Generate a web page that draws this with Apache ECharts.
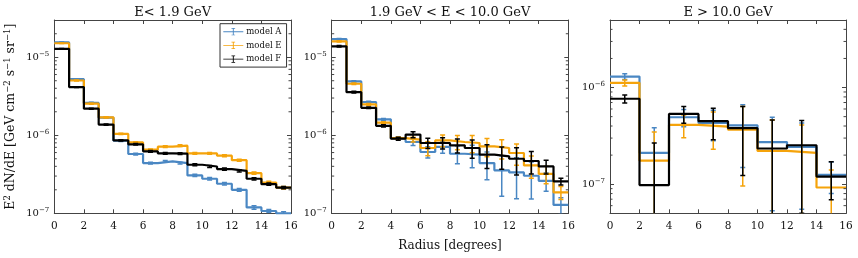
<!DOCTYPE html>
<html><head><meta charset="utf-8">
<script src="https://cdn.jsdelivr.net/npm/echarts@6/dist/echarts.min.js"></script>
<style>html,body{margin:0;padding:0;background:#fff}#c{width:858px;height:258px}</style>
</head><body><div id="c"></div>
<script>
// ---------- data ----------
const panelTitles = ['E< 1.9 GeV', '1.9 GeV < E < 10.0 GeV', 'E > 10.0 GeV'];
const modelNames = ['model A', 'model E', 'model F'];
const edgesFine = [0,1,2,3,4,5,6,7,8,9,10,11,12,13,14,15,16];
const edgesCoarse = [0,2,4,6,8,10,12,14,16];
const xTicks = [0,2,4,6,8,10,12,14,16];

// Panel 1 : E < 1.9 GeV
const p1A = [1.55e-5,5.24e-6,2.60e-6,1.68e-6,8.5e-7,5.75e-7,4.4e-7,4.63e-7,4.4e-7,3.06e-7,2.77e-7,2.39e-7,2.0e-7,1.19e-7,1.07e-7,1.0e-7];
const p1E = [1.51e-5,5.03e-6,2.54e-6,1.70e-6,1.04e-6,8.1e-7,6.53e-7,7.15e-7,7.36e-7,5.86e-7,5.86e-7,5.47e-7,4.8e-7,3.27e-7,2.48e-7,2.13e-7];
const p1F = [1.28e-5,4.14e-6,2.19e-6,1.37e-6,8.6e-7,7.65e-7,6.22e-7,5.86e-7,5.81e-7,4.19e-7,3.98e-7,3.69e-7,3.5e-7,2.77e-7,2.36e-7,2.13e-7];
const p1ErrA = [1.5e-7,6e-8,4e-8,3e-8,2e-8,1.5e-8,1.2e-8,1.2e-8,1.2e-8,1e-8,1e-8,9e-9,8e-9,6e-9,5e-9,5e-9];
const p1ErrE = [1.5e-7,6e-8,4e-8,3e-8,2e-8,1.8e-8,1.6e-8,1.8e-8,1.9e-8,1.6e-8,1.6e-8,1.5e-8,1.4e-8,1.1e-8,9e-9,8e-9];
const p1ErrF = [1.4e-7,5e-8,3.5e-8,2.5e-8,1.8e-8,1.7e-8,1.6e-8,1.6e-8,1.6e-8,1.3e-8,1.3e-8,1.2e-8,1.1e-8,9e-9,8e-9,7e-9];

// Panel 2 : 1.9 GeV < E < 10.0 GeV
const p2A = [1.71e-5,4.9e-6,2.67e-6,1.6e-6,9.1e-7,8.2e-7,6.1e-7,7.08e-7,5.8e-7,5.64e-7,4.4e-7,3.55e-7,3.34e-7,3.03e-7,2.61e-7,1.28e-7];
const p2E = [1.6e-5,4.57e-6,2.49e-6,1.45e-6,9.2e-7,8.8e-7,6.87e-7,8.6e-7,8.2e-7,7.96e-7,7.2e-7,6.87e-7,5.93e-7,4.11e-7,3.2e-7,1.85e-7];
const p2F = [1.38e-5,3.57e-6,2.25e-6,1.32e-6,9.06e-7,1.02e-6,7.96e-7,7.96e-7,7.43e-7,6.87e-7,5.64e-7,5.37e-7,5.0e-7,4.68e-7,3.99e-7,2.56e-7];
const p2ErrA = [3e-7,1e-7,6e-8,4e-8,3e-8,8e-8,1.0e-7,1.2e-7,1.5e-7,1.8e-7,1.7e-7,1.9e-7,1.8e-7,1.5e-7,7e-8,3e-8];
const p2ErrE = [3e-7,1e-7,6e-8,4e-8,3e-8,6e-8,1.4e-7,1.5e-7,1.7e-7,2.0e-7,1.9e-7,1.9e-7,1.8e-7,1.3e-7,8e-8,3.5e-8];
const p2ErrF = [3e-7,1e-7,5e-8,4e-8,4e-8,9e-8,1.2e-7,1.3e-7,1.5e-7,1.8e-7,1.9e-7,1.7e-7,1.9e-7,1.5e-7,8e-8,2.5e-8];

// Panel 3 : E > 10.0 GeV
const p3A = [1.30e-6,2.11e-7,4.93e-7,4.31e-7,4.07e-7,2.73e-7,2.43e-7,1.25e-7];
const p3E = [1.12e-6,1.75e-7,4.11e-7,3.95e-7,3.66e-7,2.21e-7,2.11e-7,9.25e-8];
const p3F = [7.66e-7,9.8e-8,5.33e-7,4.49e-7,3.8e-7,2.34e-7,2.53e-7,1.2e-7];
const p3ErrA = [9e-8,1.72e-7,1.0e-7,1.5e-7,2.58e-7,2.2e-7,1.88e-7,4.5e-8];
const p3ErrE = [8e-8,1.72e-7,1.08e-7,1.65e-7,2.7e-7,2.4e-7,2.0e-7,4.8e-8];
const p3ErrF = [7.3e-8,1.69e-7,1.05e-7,1.6e-7,2.57e-7,2.29e-7,2.03e-7,5.1e-8];

const yMins = [1e-7, 1e-7, 5e-8];
const yMaxs = [3e-5, 3e-5, 5e-6];

// ---------- styling ----------
const FONT = 'DejaVu Serif';
const TXT = '#111';
const AX = '#444';
const colors = ['#4a87c3', '#f5a30a', '#000000'];
const grids = [
  {left: 54.3, top: 20, width: 236.7, height: 193.3},
  {left: 331.7, top: 20, width: 236.6, height: 193.3},
  {left: 610, top: 20, width: 236, height: 193.3}
];
const panels = [
  {edges: edgesFine, vals: [p1A, p1E, p1F], errs: [p1ErrA, p1ErrE, p1ErrF]},
  {edges: edgesFine, vals: [p2A, p2E, p2F], errs: [p2ErrA, p2ErrE, p2ErrF]},
  {edges: edgesCoarse, vals: [p3A, p3E, p3F], errs: [p3ErrA, p3ErrE, p3ErrF]}
];

function stepData(edges, vals) {
  return edges.map((e, i) => [e, vals[Math.min(i, vals.length - 1)]]);
}
function errData(edges, vals, errs) {
  return vals.map((v, i) => [(edges[i] + edges[i + 1]) / 2, v, errs[i]]);
}
function minorTicks(lo, hi) {
  const out = [];
  for (let e = Math.floor(Math.log10(lo)); e <= Math.ceil(Math.log10(hi)); e++) {
    for (let m = 2; m <= 9; m++) {
      const v = m * Math.pow(10, e);
      if (v > lo * 1.0001 && v < hi * 0.9999) out.push([0, v]);
    }
  }
  return out;
}

const xAxes = [], yAxes = [], series = [];
grids.forEach((g, p) => {
  const xBase = {
    type: 'value', gridIndex: p, min: 0, max: 16, interval: 2,
    axisLine: {show: true, onZero: false, lineStyle: {color: AX, width: 1}},
    axisTick: {show: true, inside: true, length: 4, lineStyle: {color: AX, width: 1}},
    splitLine: {show: false}
  };
  xAxes.push(Object.assign({}, xBase, {
    position: 'bottom',
    axisLabel: {show: true, fontFamily: FONT, fontSize: 10.5, color: TXT, margin: 7},
    name: p === 1 ? 'Radius [degrees]' : '',
    nameLocation: 'middle', nameGap: 27,
    nameTextStyle: {fontFamily: FONT, fontSize: 12, color: TXT}
  }));
  xAxes.push(Object.assign({}, xBase, {position: 'top', axisLabel: {show: false}}));

  const yBase = {
    type: 'log', logBase: 10, gridIndex: p, min: yMins[p], max: yMaxs[p],
    axisLine: {show: true, onZero: false, lineStyle: {color: AX, width: 1}},
    axisTick: {show: true, inside: true, length: 4, lineStyle: {color: AX, width: 1}},
    splitLine: {show: false}, minorTick: {show: false}
  };
  const yLeft = Object.assign({}, yBase, {
    position: 'left',
    axisLabel: {
      show: true, margin: 5, showMinLabel: true, showMaxLabel: true,
      formatter: v => {
        const e = Math.log10(v);
        if (Math.abs(e - Math.round(e)) > 1e-6) return '';
        return '{b|10}{s|\u2212' + (-Math.round(e)) + '}';
      },
      rich: {
        b: {fontFamily: FONT, fontSize: 10, color: TXT, lineHeight: 13},
        s: {fontFamily: FONT, fontSize: 7, color: TXT, verticalAlign: 'top', lineHeight: 8}
      }
    }
  });
  if (p === 0) {
    Object.assign(yLeft, {
      name: '{n|E}{s|2}{n| dN/dE [GeV cm}{s|\u22122}{n| s}{s|\u22121}{n| sr}{s|\u22121}{n|]}',
      nameLocation: 'middle', nameRotate: 90, nameGap: 36,
      nameTextStyle: {
        rich: {
          n: {fontFamily: FONT, fontSize: 12.5, color: TXT, lineHeight: 15},
          s: {fontFamily: FONT, fontSize: 8.5, color: TXT, verticalAlign: 'top', lineHeight: 9}
        }
      }
    });
  }
  yAxes.push(yLeft);
  yAxes.push(Object.assign({}, yBase, {position: 'right', axisLabel: {show: false}}));

  const P = panels[p];
  for (let m = 0; m < 3; m++) {
    series.push({
      type: 'line', name: modelNames[m], xAxisIndex: 2 * p, yAxisIndex: 2 * p,
      step: 'end', showSymbol: false, symbol: 'none', z: 3 + m, clip: true,
      color: colors[m],
      lineStyle: {color: colors[m], width: 2.2},
      data: stepData(P.edges, P.vals[m]),
      animation: false
    });
    const col = colors[m], ymin = yMins[p];
    series.push({
      type: 'custom', name: modelNames[m] + ' err', xAxisIndex: 2 * p, yAxisIndex: 2 * p,
      z: 3 + m, clip: true, silent: true, animation: false,
      encode: {x: 0, y: 1},
      data: errData(P.edges, P.vals[m], P.errs[m]),
      renderItem: (params, api) => {
        const x = api.value(0), v = api.value(1), e = api.value(2);
        const hi = v + e;
        let lo = v - e;
        if (lo < ymin * 0.5) lo = ymin * 0.5;
        const ph = api.coord([x, hi]), pl = api.coord([x, lo]);
        const st = {stroke: col, lineWidth: 1.5};
        return {type: 'group', children: [
          {type: 'line', shape: {x1: ph[0], y1: ph[1], x2: pl[0], y2: pl[1]}, style: st},
          {type: 'line', shape: {x1: ph[0] - 2.5, y1: ph[1], x2: ph[0] + 2.5, y2: ph[1]}, style: st},
          {type: 'line', shape: {x1: pl[0] - 2.5, y1: pl[1], x2: pl[0] + 2.5, y2: pl[1]}, style: st}
        ]};
      }
    });
  }
  // minor log ticks on left and right frame
  series.push({
    type: 'custom', xAxisIndex: 2 * p, yAxisIndex: 2 * p, silent: true, animation: false, z: 10,
    encode: {x: 0, y: 1},
    data: minorTicks(yMins[p], yMaxs[p]),
    renderItem: (params, api) => {
      const v = api.value(1);
      const l = api.coord([0, v]), r = api.coord([16, v]);
      const st = {stroke: AX, lineWidth: 1};
      return {type: 'group', children: [
        {type: 'line', shape: {x1: l[0], y1: l[1], x2: l[0] + 2.5, y2: l[1]}, style: st},
        {type: 'line', shape: {x1: r[0] - 2.5, y1: r[1], x2: r[0], y2: r[1]}, style: st}
      ]};
    }
  });
});

const chart = echarts.init(document.getElementById('c'), null, {renderer: 'canvas'});
chart.setOption({
  animation: false,
  backgroundColor: '#fff',
  grid: grids.map(g => Object.assign({outerBoundsMode: 'none', containLabel: false}, g)),
  xAxis: xAxes,
  yAxis: yAxes,
  legend: {
    data: modelNames, orient: 'vertical', left: 220, top: 23.7,
    padding: [3.5, 5, 3.5, 3.3], itemGap: 4.7, itemWidth: 20, itemHeight: 9,
    backgroundColor: '#fff', borderColor: '#333', borderWidth: 1, borderRadius: 0,
    selectedMode: false, z: 20,
    icon: 'path://M0,9 L44,9 L44,11 L0,11 Z M21,2 L23,2 L23,18 L21,18 Z M18,2 L26,2 L26,3.5 L18,3.5 Z M18,16.5 L26,16.5 L26,18 L18,18 Z',
    textStyle: {fontFamily: FONT, fontSize: 8.5, color: TXT, padding: [0, 0, 0, -2]}
  },
  graphic: panelTitles.map((t, i) => ({
    type: 'text', x: grids[i].left + grids[i].width / 2, y: 12.7,
    style: {text: t, font: '13px "DejaVu Serif"', fill: TXT, align: 'center', verticalAlign: 'middle'}
  })),
  series: series
});
</script></body></html>
